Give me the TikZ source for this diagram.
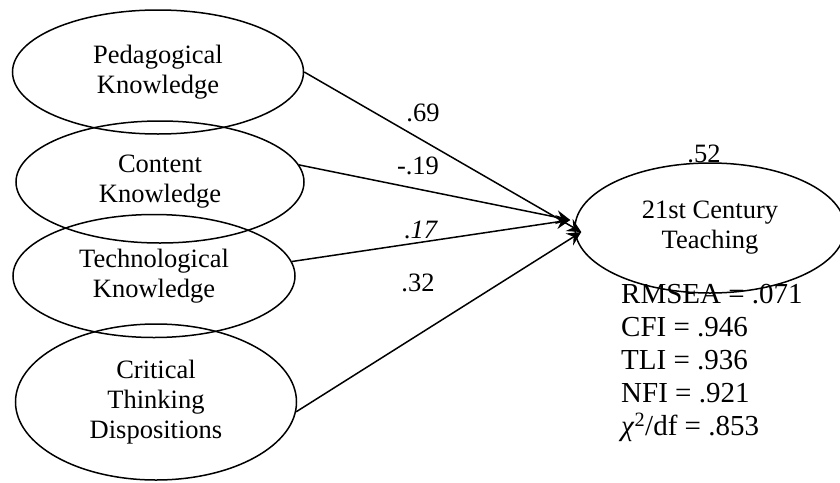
\documentclass[tikz,border=0pt]{standalone}
\usepackage{fontspec}
\setmainfont{Liberation Serif}
\usetikzlibrary{shapes.geometric,arrows.meta}

\begin{document}
\begin{tikzpicture}[x=1pt, y=-1pt,
        factor/.style={ellipse, draw, line width=1.5pt, inner sep=0pt, align=center,
            font=\fontsize{26.5}{30}\selectfont},
        path/.style={line width=1.5pt, -{Stealth[length=14pt, width=14pt, inset=5pt]}},
        coef/.style={anchor=base, inner sep=0pt, font=\fontsize{26.5}{30}\selectfont}]
        \useasboundingbox (0,0) rectangle (840,482);

        \node[factor, minimum width=291pt, minimum height=124pt] (ped) at (158,72) {Pedagogical\\Knowledge};
        \node[factor, minimum width=288pt, minimum height=122pt] (cont) at (160,182) {Content\\Knowledge};
        \node[factor, minimum width=282pt, minimum height=123pt] (tech) at (154,276) {Technological\\Knowledge};
        \node[factor, minimum width=281pt, minimum height=156pt] (crit) at (156,402) {Critical\\Thinking\\Dispositions};
        \node[factor, minimum width=270pt, minimum height=130pt] (teach) at (710,228) {21st Century\\Teaching};

        \coordinate (inA) at ([shift={(-4pt,8pt)}]teach.west);
        \coordinate (inB) at ([shift={(7pt,-4pt)}]teach.west);

        \draw[path] (ped.east) -- (inB);
        \draw[path] (cont.7) -- (inA);
        \draw[path] (tech.6) -- (inA);
        \draw[path] (crit.-4) -- (inB);

        \node[coef] (b1) at (423,121) {.69};
        \node[coef] (b2) at (418,174) {-.19};
        \node[coef] (b3) at (421,238) {.\textit{17}};
        \node[coef] (b4) at (418,291) {.32};
        \node[coef] (r2) at (704,162) {.52};

        \node[anchor=north west, inner sep=0pt, align=left, font=\fontsize{29}{33}\selectfont] (fit) at (621,284)
            {RMSEA = .071\\CFI = .946\\TLI = .936\\NFI = .921\\\textit{χ}\textsuperscript{2}/df = .853};

    \end{tikzpicture}
\end{document}
